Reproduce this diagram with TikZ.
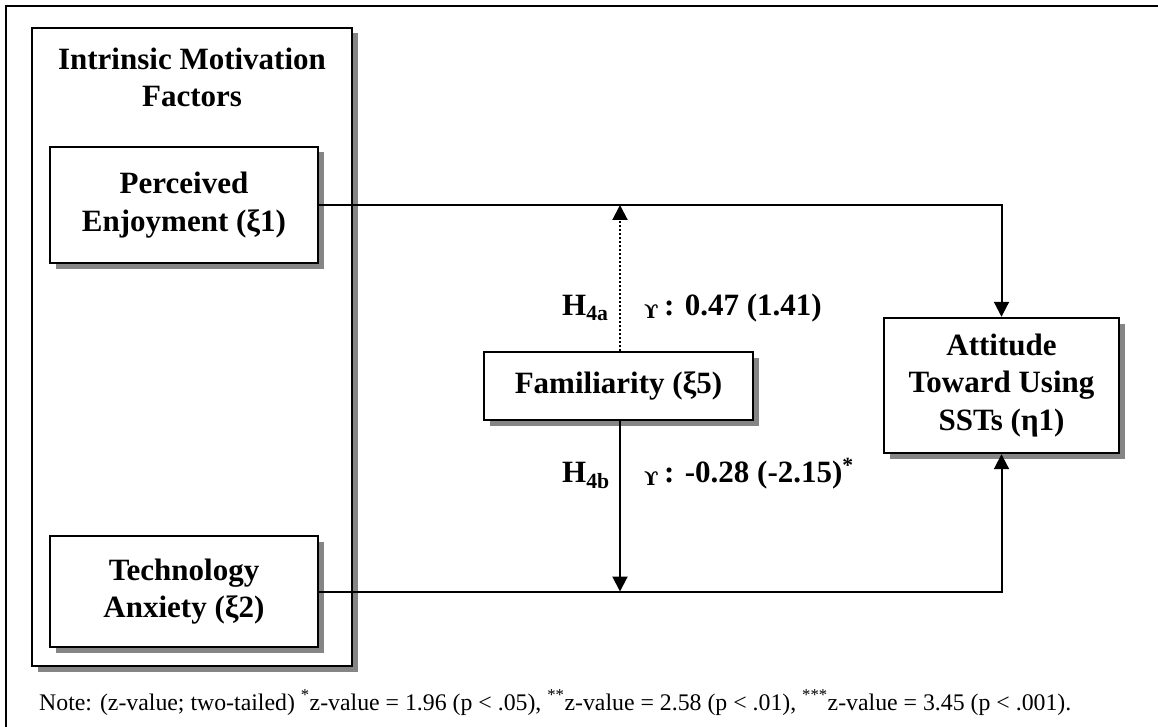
\documentclass[tikz,border=0pt]{standalone}
\usepackage{fontspec}
\setmainfont{Liberation Serif}
\newfontfamily\dvserif{DejaVu Serif}
\usetikzlibrary{arrows.meta,shadows}
\begin{document}
\begin{tikzpicture}[x=1pt,y=-1pt,
  big/.style={font=\bfseries\fontsize{31}{37.5}\selectfont},
  box/.style={draw,line width=2.4pt,fill=white,inner sep=0pt,align=center,big,
    drop shadow={shadow xshift=5.5pt,shadow yshift=-5.5pt,fill=black!48,opacity=1}},
  conn/.style={line width=2pt},
  tip/.style={-{Triangle[width=15pt,length=15pt]}},
  lab/.style={anchor=base west,inner sep=0pt,big},
  gam/.style={anchor=base west,inner sep=0pt,font=\dvserif\bfseries\fontsize{19}{19}\selectfont}
]
\useasboundingbox (0,0) rectangle (1158,727);
\fill[white] (0,0) rectangle (1158,727);
% outer frame (cut at right and bottom)
\draw[line width=2.2pt] (6,740) -- (6,6) -- (1170,6);

% group box
\node[box,minimum width=320pt,minimum height=638pt] (grp) at (192,347) {};
\node[big,align=center,inner sep=0pt,anchor=base] (grptitle) at (192,107) {Intrinsic Motivation\\Factors};

% factor boxes
\node[box,minimum width=268pt,minimum height=116pt] (pe) at (184,205) {Perceived\\Enjoyment (ξ1)};
\node[box,minimum width=268pt,minimum height=111pt] (ta) at (184,591.5) {Technology\\Anxiety (ξ2)};
\node[box,minimum width=269pt,minimum height=68pt] (fam) at (618.5,386) {Familiarity (ξ5)};
\node[box,minimum width=235pt,minimum height=135pt] (att) at (1001.5,385.5) {Attitude\\Toward Using\\SSTs (η1)};

% connectors
\draw[conn,tip] (pe.east) -| (att.north);
\draw[conn,tip] (ta.east) -| (att.south);
\coordinate (up) at (pe.east -| 620,0);
\coordinate (dn) at (ta.east -| 620,0);
\draw[line width=1.8pt,dash pattern=on 1.8pt off 2.2pt] (fam.north -| up) -- ([yshift=-14pt]up);
\draw[conn,tip] ([yshift=-14pt]up) -- (up);
\draw[conn,tip] (fam.south -| dn) -- (dn);

% labels
\node[lab] (h4a) at (562,315) {H\textsubscript{4a}};
\node[gam] (g1) at (644,318) {ϒ};
\node[lab] (v1) at (664,315) {: 0.47 (1.41)};
\node[lab] (h4b) at (562,482) {H\textsubscript{4b}};
\node[gam] (g2) at (644,485) {ϒ};
\node[lab] (v2) at (664,482) {: -0.28 (-2.15)\textsuperscript{*}};

% note
\node[anchor=base west,inner sep=0pt,font=\fontsize{23.8}{24}\selectfont] (note) at (39,710)
  {Note: (z-value; two-tailed) \textsuperscript{*}z-value = 1.96 (p < .05), \textsuperscript{**}z-value = 2.58 (p < .01), \textsuperscript{***}z-value = 3.45 (p < .001).};
\end{tikzpicture}
\end{document}
